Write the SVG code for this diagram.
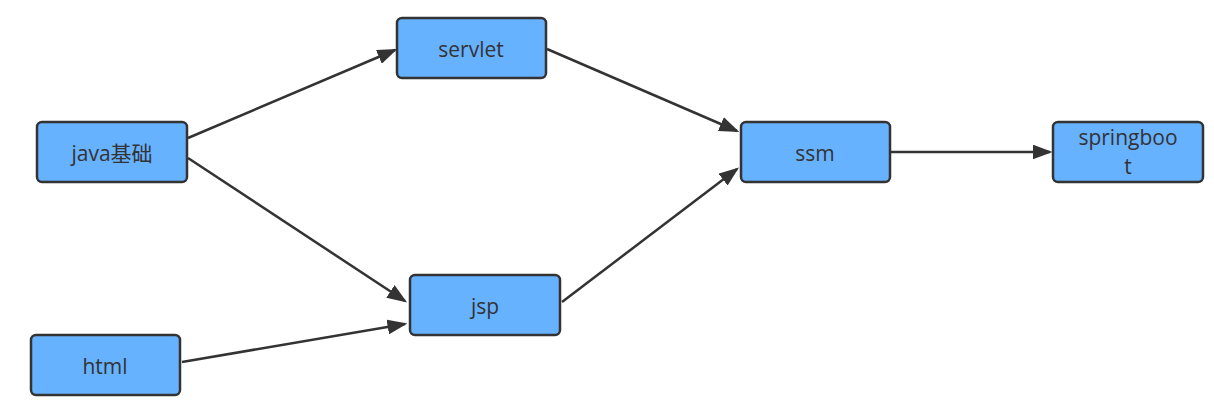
<svg xmlns="http://www.w3.org/2000/svg" width="1214" height="401" viewBox="0 0 1214 401">
<defs>
<style>
.box{fill:#66b2ff;stroke:#333;stroke-width:2.5}
.lbl{font-family:"Open Sans","Noto Sans CJK SC",sans-serif;font-size:21px;fill:#333;text-anchor:middle}
.edge{stroke:#333;stroke-width:2.5;fill:none;marker-end:url(#arr)}
</style>
<marker id="arr" markerWidth="8" markerHeight="6" refX="7" refY="3" orient="auto" markerUnits="strokeWidth">
<path d="M0,0 L8,3 L0,6 z" fill="#333"/>
</marker>
</defs>
<rect width="1214" height="401" fill="#fff"/>
<g id="connectors">
<line class="edge" x1="188" y1="138" x2="395" y2="50"/>
<line class="edge" x1="188" y1="158" x2="405" y2="301"/>
<line class="edge" x1="182" y1="362" x2="405" y2="324"/>
<line class="edge" x1="547" y1="49" x2="737" y2="131"/>
<line class="edge" x1="562" y1="302" x2="737" y2="169"/>
<line class="edge" x1="891" y1="152" x2="1050" y2="152"/>
</g>
<g id="java"><rect class="box" x="37" y="122" width="150" height="60" rx="5"/><text class="lbl" x="112" y="161">java基础</text></g>
<g id="servlet"><rect class="box" x="397" y="18" width="149" height="60" rx="5"/><text class="lbl" x="471" y="57">servlet</text></g>
<g id="jsp"><rect class="box" x="410" y="275" width="150" height="60" rx="5"/><text class="lbl" x="485" y="314">jsp</text></g>
<g id="html"><rect class="box" x="31" y="335" width="149" height="60" rx="5"/><text class="lbl" x="105" y="374">html</text></g>
<g id="ssm"><rect class="box" x="741" y="122" width="149" height="60" rx="5"/><text class="lbl" x="815" y="161">ssm</text></g>
<g id="springboot"><rect class="box" x="1053" y="122" width="150" height="60" rx="5"/><text class="lbl" x="1128" y="145">springboo</text><text class="lbl" x="1128" y="174">t</text></g>
</svg>
